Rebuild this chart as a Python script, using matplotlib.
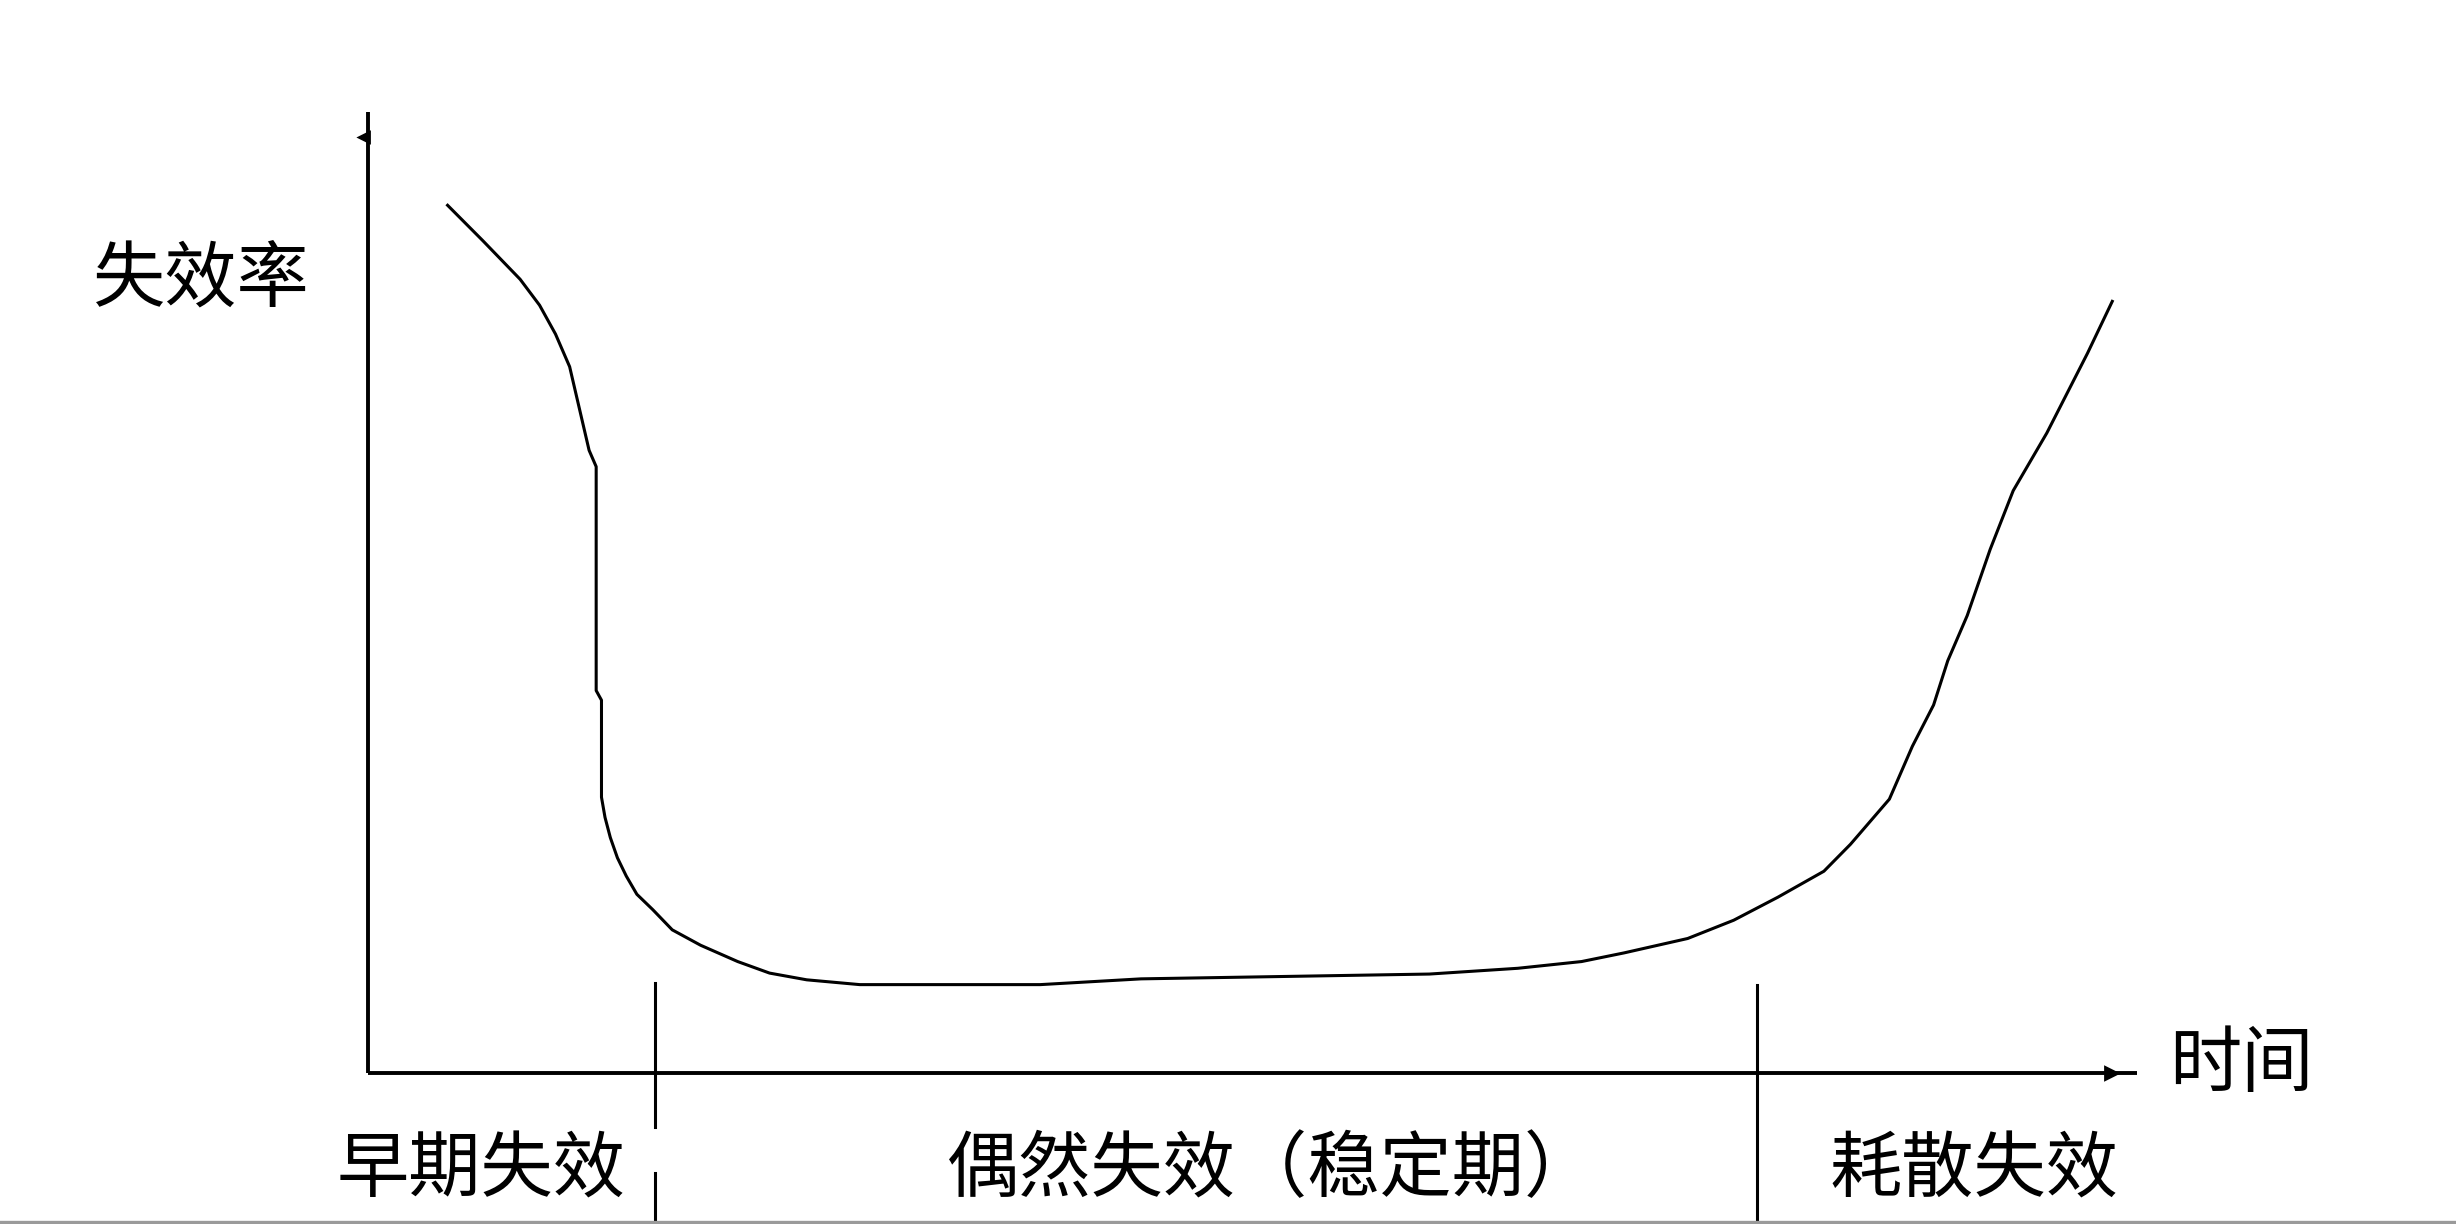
import matplotlib
matplotlib.use("Agg")
import matplotlib.pyplot as plt
from matplotlib.lines import Line2D

plt.rcParams['font.family'] = ['Noto Sans CJK SC', 'DejaVu Sans']

# ---- data (time in 0..100 units, failure rate in 0..100 units) ----
time_pts = [4.5, 6.5, 8.6, 9.7, 10.6, 11.4, 12.5, 12.9, 12.9, 13.2, 13.2, 13.4,
            13.7, 14.1, 14.6, 15.2, 16.1, 17.2, 18.8, 20.9, 22.7, 24.8, 27.8,
            38.0, 43.7, 60.0, 65.0, 68.6, 71.0, 74.6, 77.2, 79.7, 82.3, 83.8,
            86.0, 87.3, 88.5, 89.3, 90.4, 91.7, 93.0, 94.9, 97.2, 98.6]
rate_pts = [90.3, 86.6, 82.6, 79.9, 76.9, 73.5, 64.8, 63.1, 39.8, 38.8, 28.7, 26.6,
            24.5, 22.4, 20.5, 18.6, 17.0, 14.9, 13.3, 11.6, 10.4, 9.7, 9.2,
            9.2, 9.8, 10.3, 10.9, 11.6, 12.5, 14.0, 15.9, 18.3, 21.0, 23.8,
            28.5, 34.0, 38.3, 42.9, 47.6, 54.5, 60.6, 66.6, 74.9, 80.3]

phase_bounds = [16.2, 78.5]
phase_labels = ["早期失效", "偶然失效（稳定期）", "耗散失效"]
phase_label_x = [6.4, 51.1, 90.8]
y_label = "失效率"
x_label = "时间"

fig = plt.figure(figsize=(12.28, 6.12), dpi=200)
ax = fig.add_axes([0, 0, 1, 1])
ax.set_xlim(-20.80, 118.03)
ax.set_ylim(-15.71, 111.66)
ax.axis('off')

# axes with small arrow heads
ax.plot([0, 100], [0, 0], color='black', lw=1.4, solid_capstyle='butt')
ax.plot([0, 0], [0, 100], color='black', lw=1.4, solid_capstyle='butt')
ax.plot([98.5], [0], marker='>', color='black', markersize=4.5)
ax.plot([-0.25], [97.4], marker='<', color='black', markersize=3.5)

# bathtub curve
ax.plot(time_pts, rate_pts, color='black', lw=1.1, solid_joinstyle='round')

# phase boundaries
ax.plot([phase_bounds[0]] * 2, [9.4, -5.6], color='black', lw=1.1)
ax.plot([phase_bounds[0]] * 2, [-10.4, -15.71], color='black', lw=1.1)
ax.plot([phase_bounds[1]] * 2, [9.2, -15.71], color='black', lw=1.1)

# labels
fs = 26
ax.text(-9.4, 82.5, y_label, fontsize=fs, ha='center', va='center')
ax.text(105.9, 0.8, x_label, fontsize=fs, ha='center', va='center')
for lx, lab in zip(phase_label_x, phase_labels):
    ax.text(lx, -10.2, lab, fontsize=fs, ha='center', va='center')

# thin grey line at the very bottom
fig.add_artist(Line2D([0, 1], [0.002, 0.002], transform=fig.transFigure,
                      color='#9a9a9a', lw=1.2))

fig.savefig('out.png', dpi=200, facecolor='white')
